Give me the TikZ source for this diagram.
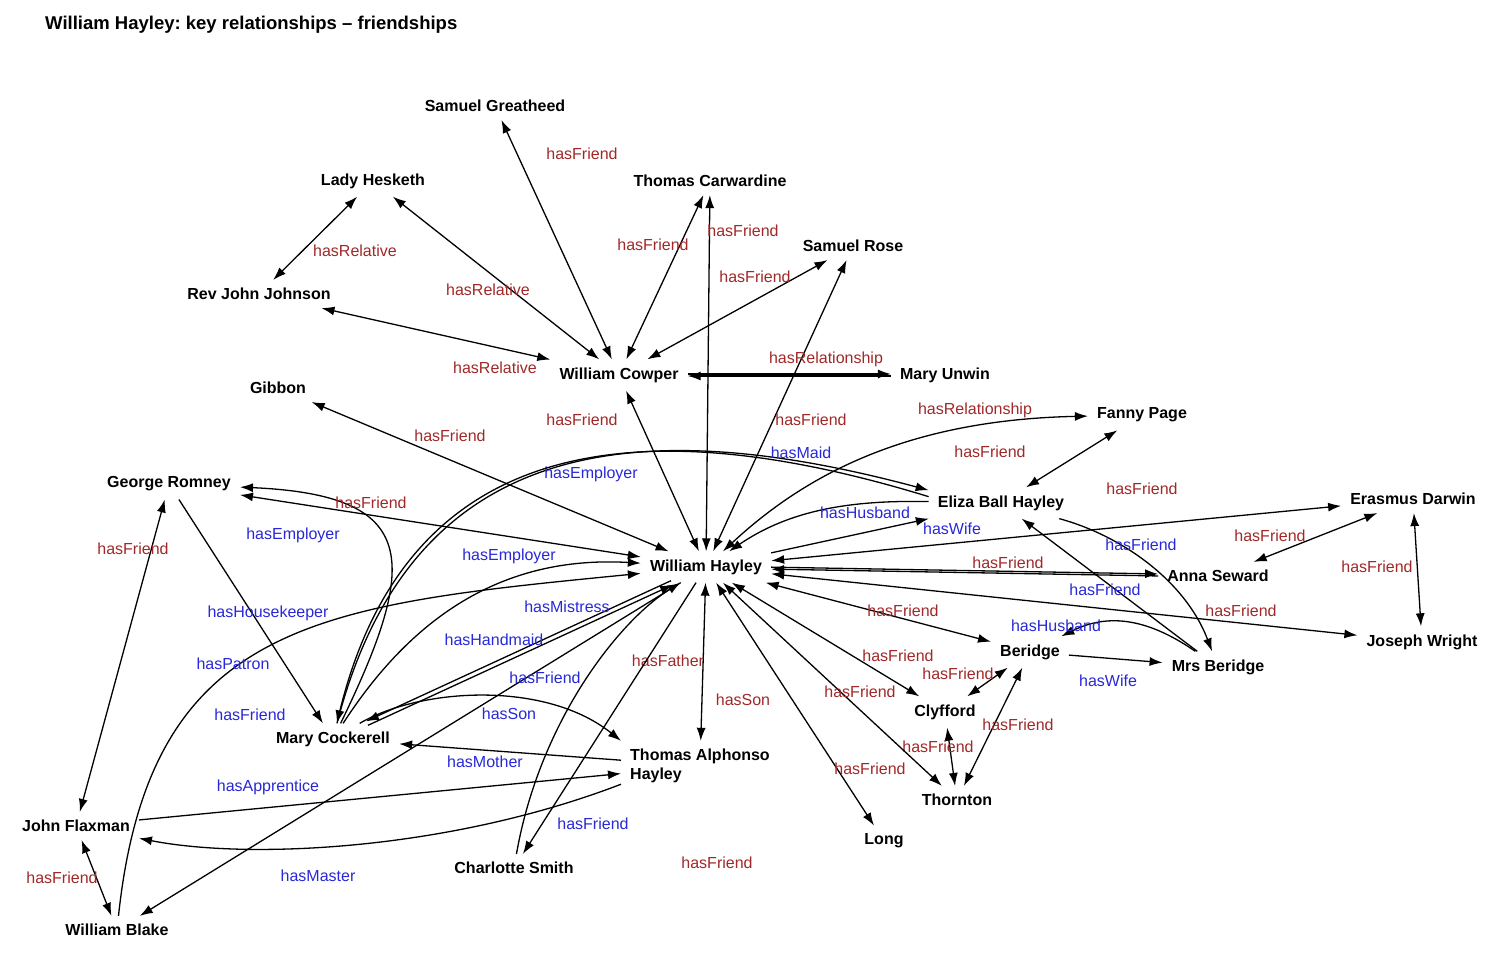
\documentclass[tikz,border=0pt]{standalone}
\usepackage{fontspec}
\setmainfont{Liberation Sans}
\usepackage{tikz}
\usetikzlibrary{calc}
\usetikzlibrary{arrows.meta}
\definecolor{relred}{RGB}{160,40,40}
\definecolor{relblue}{RGB}{40,40,215}
\tikzset{>={Latex[length=13pt,width=9pt]}}
\tikzstyle{arw}=[->, line width=1.3pt]
\tikzstyle{barw}=[<->, line width=1.3pt]
\tikzstyle{ent}=[font=\bfseries\fontsize{16}{19}\selectfont, inner xsep=9pt, inner ysep=8pt]
\tikzstyle{rl}=[font=\fontsize{16}{19}\selectfont, text=relred, inner sep=0pt]
\tikzstyle{bl}=[font=\fontsize{16}{19}\selectfont, text=relblue, inner sep=0pt]
\frenchspacing

\begin{document}
\begin{tikzpicture}[x=1pt,y=-1pt]
    \useasboundingbox (0,0) rectangle (1500,957);
    \node[anchor=west, inner sep=0pt, font=\bfseries\fontsize{18.5}{22}\selectfont] (title) at (45,25) {William Hayley: key relationships -- friendships};

    % people
    \node[ent] (sg) at (495,106) {Samuel Greatheed};
    \node[ent] (lh) at (373,181) {Lady Hesketh};
    \node[ent] (tc) at (710,181) {Thomas Carwardine};
    \node[ent] (sr) at (853,246) {Samuel Rose};
    \node[ent] (rjj) at (259,294) {Rev John Johnson};
    \node[ent] (wc) at (619,375) {William Cowper};
    \node[ent] (mu) at (945,375) {Mary Unwin};
    \node[ent] (gib) at (278,388) {Gibbon};
    \node[ent] (fp) at (1142,415) {Fanny Page};
    \node[ent] (gr) at (169,484) {George Romney};
    \node[ent] (ebh) at (1001,503) {Eliza Ball Hayley};
    \node[ent] (ed) at (1413,499) {Erasmus Darwin};
    \node[ent] (wh) at (706,567) {William Hayley};
    \node[ent] (sew) at (1218,576) {Anna Seward};
    \node[ent] (jw) at (1422,642) {Joseph Wright};
    \node[ent] (ber) at (1030,652) {Beridge};
    \node[ent] (mrsb) at (1218,667) {Mrs Beridge};
    \node[ent] (cly) at (945,712) {Clyfford};
    \node[ent] (mc) at (333,739) {Mary Cockerell};
    \node[ent, anchor=west, align=left] (tap) at (621,766) {Thomas Alphonso\\Hayley};
    \node[ent] (thn) at (957,800) {Thornton};
    \node[ent] (fl) at (76,826) {John Flaxman};
    \node[ent] (long) at (884,841) {Long};
    \node[ent] (cs) at (514,868) {Charlotte Smith};
    \node[ent] (wb) at (117,930) {William Blake};

    % Cowper circle
    \draw[barw] (sg) -- (wc) node[rl] at (582,154) {hasFriend};
    \draw[barw] (lh) -- (rjj) node[rl] at (355,251) {hasRelative};
    \draw[barw] (lh) -- (wc) node[rl] at (488,290) {hasRelative};
    \draw[barw] (rjj) -- (wc) node[rl] at (495,368) {hasRelative};
    \draw[barw] (tc) -- (wc) node[rl] at (653,245) {hasFriend};
    \draw[barw] (tc) -- (wh) node[rl] at (743,231) {hasFriend};
    \draw[barw] (sr) -- (wc) node[rl] at (755,277) {hasFriend};
    \draw[barw] (sr) -- (wh) node[rl] at (811,420) {hasFriend};
    \draw[arw, transform canvas={yshift=1pt}] (wc) -- (mu);
    \draw[arw, transform canvas={yshift=-1pt}] (mu) -- (wc) node[rl] at (826,358) {hasRelationship};
    \draw[barw] (wc) -- (wh) node[rl] at (582,420) {hasFriend};
    \draw[barw] (gib) -- (wh) node[rl] at (450,436) {hasFriend};

    % right side
    \draw[barw] (wh) .. controls (800,480) and (900,420) .. (fp) node[rl] at (975,410) {hasRelationship};
    \draw[barw] (fp) -- (ebh) node[rl] at (990,452) {hasFriend};
    \draw[barw] (wh) -- (ed) node[rl] at (1142,489) {hasFriend};
    \draw[arw] (wh) -- (ebh) node[bl] at (952,529) {hasWife};
    \draw[arw] (ebh) .. controls (850,500) and (790,510) .. (wh) node[bl] at (865,513) {hasHusband};
    \draw[arw] (mrsb) -- (ebh) node[bl] at (1105,590) {hasFriend};
    \draw[arw] (ebh) .. controls (1120,535) and (1185,580) .. (mrsb) node[bl] at (1141,545) {hasFriend};
    \draw[barw] (sew) -- (ed) node[rl] at (1270,536) {hasFriend};
    \draw[arw, transform canvas={yshift=1pt}] (wh) -- (sew);
    \draw[arw, transform canvas={yshift=-1pt}] (sew) -- (wh) node[rl] at (1008,562) {hasFriend};
    \draw[barw] (ed) -- (jw) node[rl] at (1377,567) {hasFriend};
    \draw[barw] (wh) -- (jw) node[rl] at (1241,611) {hasFriend};
    \draw[barw] (wh) -- (ber) node[rl] at (903,611) {hasFriend};
    \draw[arw] (ber) -- (mrsb) node[bl] at (1108,681) {hasWife};
    \draw[arw] (mrsb) .. controls (1150,620) and (1110,612) .. (ber) node[bl] at (1056,626) {hasHusband};
    \draw[barw] (wh) -- (cly) node[rl] at (898,656) {hasFriend};
    \draw[barw] (ber) -- (cly) node[rl] at (958,674) {hasFriend};
    \draw[barw] (ber) -- (thn) node[rl] at (1018,725) {hasFriend};
    \draw[barw] (cly) -- (thn) node[rl] at (938,747) {hasFriend};
    \draw[barw] (wh) -- (thn) node[rl] at (860,692) {hasFriend};
    \draw[barw] (wh) -- (long) node[rl] at (870,769) {hasFriend};
    \draw[barw] (wh) -- (tap) node[rl] at (668,661) {hasFather} node[rl] at (743,700) {hasSon};

    % left side
    \draw[arw] (wh) -- (cs) node[rl] at (717,863) {hasFriend};
    \draw[arw] (cs) .. controls (540,720) and (620,620) .. (wh) node[bl] at (593,824) {hasFriend};
    \draw[arw] (gr) -- (mc) node[bl] at (268,613) {hasHousekeeper};
    \draw[arw] (mc) .. controls (420,560) and (420,495) .. (gr) node[bl] at (293,535) {hasEmployer};
    \draw[barw] (gr) -- (wh) node[rl] at (371,503) {hasFriend};
    \draw[arw] (mc) .. controls (410,620) and (500,555) .. (wh) node[bl] at (509,556) {hasEmployer};
    \draw[arw, transform canvas={shift={(-1,-2)}}] (wh) -- (mc) node[bl] at (495,642) {hasHandmaid};
    \draw[arw, transform canvas={shift={(1,2)}}] (mc) -- (wh) node[bl] at (566,605) {hasMistress};
    \draw[arw] (mc) .. controls (410,440) and (630,410) .. (ebh.170) node[bl] at (591,474) {hasEmployer};
    \draw[arw] (ebh.175) .. controls (630,405) and (406,440) .. (mc) node[bl] at (801,453) {hasMaid};
    \draw[arw] (wh) -- (wb) node[bl] at (545,678) {hasFriend};
    \draw[arw] (wb) .. controls (150,620) and (320,605) .. (wh) node[bl] at (233,664) {hasPatron} node[bl] at (250,715) {hasFriend};
    \draw[barw] (fl) -- (wb) node[rl] at (62,878) {hasFriend};
    \draw[barw] (fl) -- (gr) node[rl] at (133,549) {hasFriend};
    \draw[arw] (fl) -- (tap) node[bl] at (268,787) {hasApprentice};
    \draw[arw] (tap.-167) .. controls (450,850) and (250,860) .. (fl) node[bl] at (318,876) {hasMaster};
    \draw[arw] (tap) -- (mc) node[bl] at (485,762) {hasMother};
    \draw[arw] (mc) .. controls (420,688) and (545,680) .. (tap.north west) node[bl] at (509,714) {hasSon};
\end{tikzpicture}
\end{document}
